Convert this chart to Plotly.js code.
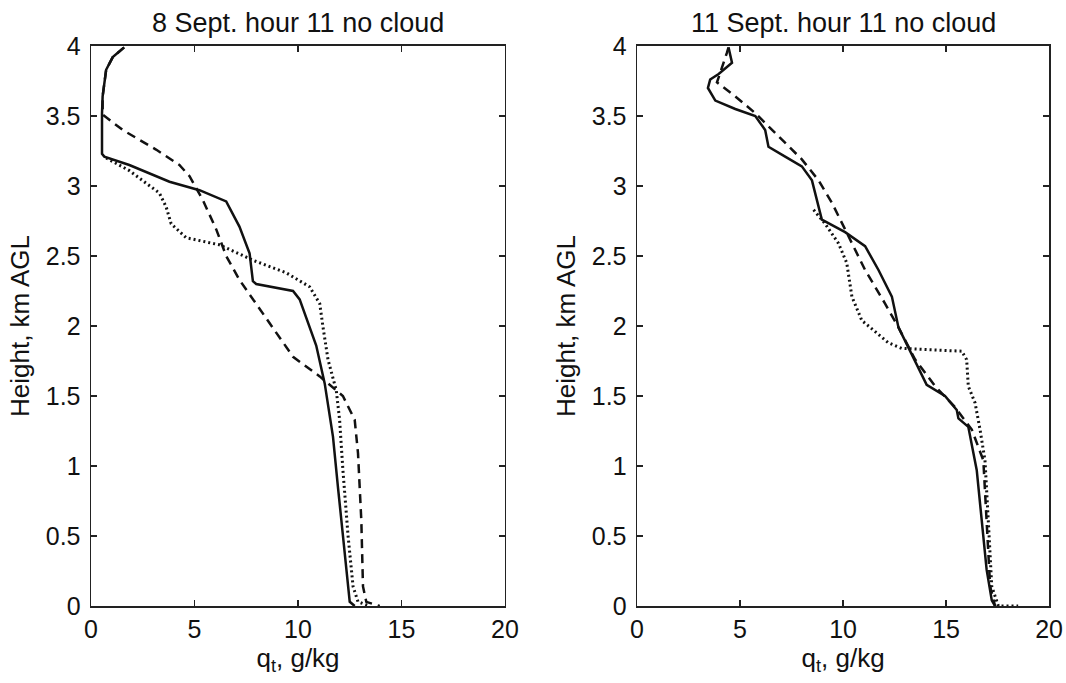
<!DOCTYPE html>
<html>
<head>
<meta charset="utf-8">
<script src="https://cdn.plot.ly/plotly-3.0.1.min.js"></script>
<style>html,body{margin:0;padding:0;background:#fff;}#chart{width:1066px;height:683px;}</style>
</head>
<body>
<div id="chart"></div>
<script>
// ---- Left panel: 8 Sept. hour 11 no cloud ----
const leftSolidQ = [1.6, 1.05, 0.73, 0.56, 0.53, 0.53, 0.64, 1.85, 3.79, 5.24, 6.53, 7.17, 7.66, 7.82, 7.98, 9.76, 10.08, 10.35, 10.6, 10.88, 11.29, 11.69, 11.93, 12.17, 12.34, 12.5, 12.74];
const leftSolidZ = [3.99, 3.92, 3.83, 3.64, 3.52, 3.23, 3.21, 3.15, 3.03, 2.97, 2.89, 2.71, 2.52, 2.32, 2.30, 2.25, 2.19, 2.08, 1.97, 1.86, 1.59, 1.21, 0.85, 0.50, 0.23, 0.03, 0.0];

const leftDashQ = [1.6, 1.05, 0.73, 0.56, 0.56, 1.53, 3.14, 4.27, 4.76, 5.40, 6.05, 6.53, 7.17, 7.98, 8.7, 9.76, 11.05, 12.17, 12.74, 12.9, 13.06, 13.14, 13.3, 13.95];
const leftDashZ = [3.99, 3.92, 3.83, 3.64, 3.51, 3.40, 3.26, 3.15, 3.07, 2.90, 2.69, 2.50, 2.33, 2.16, 2.0, 1.78, 1.64, 1.50, 1.33, 1.09, 0.61, 0.14, 0.03, 0.0];

const leftDotQ = [0.73, 1.85, 2.66, 3.30, 3.63, 3.87, 4.60, 6.2, 7.82, 9.43, 10.56, 11.05, 11.2, 11.45, 11.85, 12.01, 12.17, 12.42, 12.66, 12.9, 13.46];
const leftDotZ = [3.20, 3.11, 3.02, 2.95, 2.85, 2.73, 2.63, 2.58, 2.47, 2.38, 2.28, 2.16, 2.0, 1.76, 1.54, 1.33, 0.97, 0.50, 0.14, 0.03, 0.0];

// ---- Right panel: 11 Sept. hour 11 no cloud ----
const rightSolidQ = [4.44, 4.61, 3.96, 3.55, 3.44, 3.80, 4.77, 5.74, 6.22, 6.38, 7.19, 8.0, 8.49, 8.73, 8.97, 10.10, 11.07, 11.72, 12.37, 12.69, 13.34, 14.06, 14.95, 15.52, 15.60, 16.08, 16.49, 16.73, 16.97, 17.22, 17.38];
const rightSolidZ = [3.99, 3.88, 3.80, 3.76, 3.70, 3.61, 3.55, 3.50, 3.40, 3.28, 3.21, 3.14, 3.04, 2.90, 2.76, 2.67, 2.57, 2.40, 2.21, 1.99, 1.80, 1.58, 1.50, 1.40, 1.34, 1.28, 0.97, 0.61, 0.26, 0.04, 0.0];

const rightDashQ = [4.44, 4.36, 3.88, 4.77, 5.74, 6.71, 8.0, 8.81, 9.46, 10.10, 11.07, 12.04, 12.69, 13.5, 14.47, 15.44, 16.25, 16.81, 16.97, 17.14, 17.38];
const rightDashZ = [3.99, 3.95, 3.74, 3.64, 3.52, 3.38, 3.19, 3.04, 2.88, 2.69, 2.40, 2.16, 1.99, 1.76, 1.57, 1.42, 1.26, 1.04, 0.61, 0.14, 0.0];

const rightDotQ = [8.57, 9.13, 9.78, 10.18, 10.43, 10.91, 12.2, 12.85, 15.76, 16.0, 16.08, 16.41, 16.65, 16.89, 17.05, 17.22, 17.54, 18.5];
const rightDotZ = [2.83, 2.73, 2.59, 2.45, 2.21, 2.04, 1.88, 1.84, 1.82, 1.76, 1.57, 1.45, 1.26, 1.04, 0.61, 0.14, 0.0, 0.0];

const xTicks = [0, 5, 10, 15, 20];
const yTicks = [0, 0.5, 1, 1.5, 2, 2.5, 3, 3.5, 4];
const titles = ['8 Sept. hour 11 no cloud', '11 Sept. hour 11 no cloud'];

const ink = '#111';
function tr(x, y, dash, w, xa, ya) {
  return {x: x, y: y, type: 'scatter', mode: 'lines', xaxis: xa, yaxis: ya,
          line: {color: ink, width: w, dash: dash}, hoverinfo: 'skip', showlegend: false};
}
const data = [
  tr(leftSolidQ, leftSolidZ, 'solid', 2.5, 'x', 'y'),
  tr(leftDashQ, leftDashZ, '9px,6px', 2.5, 'x', 'y'),
  tr(leftDotQ, leftDotZ, '2px,3px', 3, 'x', 'y'),
  tr(rightSolidQ, rightSolidZ, 'solid', 2.5, 'x2', 'y2'),
  tr(rightDashQ, rightDashZ, '9px,6px', 2.5, 'x2', 'y2'),
  tr(rightDotQ, rightDotZ, '2px,3px', 3, 'x2', 'y2')
];

const fam = 'Liberation Sans, Arial, sans-serif';
const tickFont = {family: fam, size: 25, color: '#111'};
const titleFont = {family: fam, size: 27, color: '#111'};
const axTitleFont = {family: fam, size: 26, color: '#111'};
function xax(dom, anchor) {
  return {domain: dom, anchor: anchor, range: [0, 20], tickvals: xTicks, ticktext: xTicks.map(String),
    showgrid: false, zeroline: false, showline: true, mirror: 'ticks', linecolor: '#222', linewidth: 1.5,
    ticks: 'inside', ticklen: 6, tickcolor: '#222', tickwidth: 1.5, tickfont: tickFont, ticklabelstandoff: 0,
    title: {text: 'q<sub>t</sub>, g/kg', font: axTitleFont, standoff: 2}};
}
function yax(anchor) {
  return {domain: [0.1127, 0.9327], anchor: anchor, range: [0, 4], tickvals: yTicks, ticktext: yTicks.map(String),
    showgrid: false, zeroline: false, showline: true, mirror: 'ticks', linecolor: '#222', linewidth: 1.5,
    ticks: 'inside', ticklen: 6, tickcolor: '#222', tickwidth: 1.5, tickfont: tickFont, ticklabelstandoff: 4,
    title: {text: 'Height, km AGL', font: axTitleFont, standoff: 8}};
}
const layout = {
  width: 1066, height: 683,
  margin: {l: 0, r: 0, t: 0, b: 0},
  paper_bgcolor: '#fff', plot_bgcolor: '#fff',
  font: tickFont,
  xaxis: xax([0.0854, 0.4737], 'y'),
  yaxis: yax('x'),
  xaxis2: xax([0.5976, 0.9841], 'y2'),
  yaxis2: yax('x2'),
  annotations: [
    {text: titles[0], xref: 'paper', yref: 'paper', x: (0.0854 + 0.4737) / 2, y: 0.9327, yshift: 6,
     xanchor: 'center', yanchor: 'bottom', showarrow: false, font: titleFont},
    {text: titles[1], xref: 'paper', yref: 'paper', x: (0.5976 + 0.9841) / 2, y: 0.9327, yshift: 6,
     xanchor: 'center', yanchor: 'bottom', showarrow: false, font: titleFont}
  ]
};
Plotly.newPlot('chart', data, layout, {staticPlot: true, displayModeBar: false});
</script>
</body>
</html>
